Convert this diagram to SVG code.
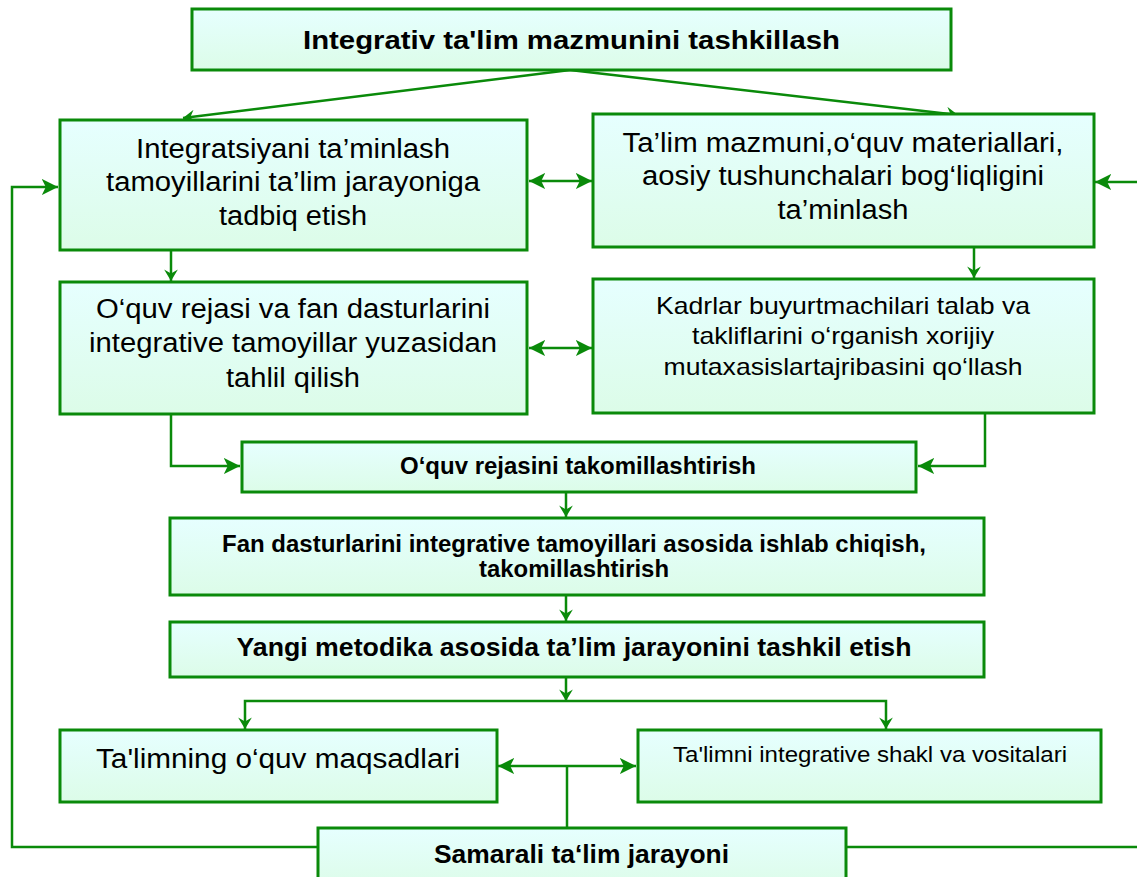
<svg xmlns="http://www.w3.org/2000/svg" width="1137" height="877" viewBox="0 0 1137 877">
<defs>
<linearGradient id="g" x1="0" y1="0" x2="0" y2="1">
<stop offset="0" stop-color="#e6ffff"/>
<stop offset="1" stop-color="#dcfce8"/>
</linearGradient>
<marker id="ah" viewBox="0 0 12 12" refX="12" refY="6" markerWidth="6.5" markerHeight="6.5" markerUnits="strokeWidth" orient="auto-start-reverse">
<path d="M0,0 L12,6 L0,12 L3,6 z" fill="#0a8a0a"/>
</marker>
<marker id="av" viewBox="0 0 10 12" refX="10" refY="6" markerWidth="6.5" markerHeight="5.5" markerUnits="strokeWidth" orient="auto-start-reverse">
<path d="M0,0 L10,6 L0,12 L3.5,6 z" fill="#0a8a0a"/>
</marker>
</defs>
<style>
.box{fill:url(#g);stroke:#0a8a0a;stroke-width:3}
.c{fill:none;stroke:#0a8a0a;stroke-width:2.5}
.t{font-family:"Liberation Sans",Arial,sans-serif;fill:#000;text-anchor:middle}
.b{font-weight:bold}
</style>
<rect width="1137" height="877" fill="#fff"/>
<g id="connectors">
<line class="c" x1="570" y1="70" x2="183" y2="118" marker-end="url(#av)"/>
<line class="c" x1="570" y1="70" x2="958" y2="115" marker-end="url(#av)"/>
<line class="c" x1="529" y1="181" x2="592" y2="181" marker-start="url(#ah)" marker-end="url(#ah)"/>
<line class="c" x1="1137" y1="182" x2="1095" y2="182" marker-end="url(#ah)"/>
<polyline class="c" points="318,847 12,847 12,187 58,187" marker-end="url(#ah)"/>
<line class="c" x1="171" y1="251" x2="171" y2="281" marker-end="url(#av)"/>
<line class="c" x1="974" y1="248" x2="974" y2="278" marker-end="url(#av)"/>
<line class="c" x1="529" y1="348" x2="592" y2="348" marker-start="url(#ah)" marker-end="url(#ah)"/>
<polyline class="c" points="171,415 171,466 240,466" marker-end="url(#ah)"/>
<polyline class="c" points="985,414 985,466 918,466" marker-end="url(#ah)"/>
<line class="c" x1="566" y1="493" x2="566" y2="517" marker-end="url(#av)"/>
<line class="c" x1="566" y1="596" x2="566" y2="621" marker-end="url(#av)"/>
<line class="c" x1="566" y1="678" x2="566" y2="701" marker-end="url(#av)"/>
<polyline class="c" points="245,729 245,701 886,701 886,729" marker-start="url(#av)" marker-end="url(#av)"/>
<line class="c" x1="498" y1="766" x2="636" y2="766" marker-start="url(#ah)" marker-end="url(#ah)"/>
<line class="c" x1="567" y1="766" x2="567" y2="828"/>
<line class="c" x1="846" y1="847" x2="1137" y2="847"/>
</g>
<g id="n1">
<rect class="box" x="192" y="9" width="759" height="61"/>
<text class="t b" x="571.5" y="49" font-size="26" textLength="537" lengthAdjust="spacingAndGlyphs">Integrativ ta'lim mazmunini tashkillash</text>
</g>
<g id="n2">
<rect class="box" x="60" y="120" width="467" height="130"/>
<text class="t" x="293" y="158" font-size="27" textLength="314" lengthAdjust="spacingAndGlyphs">Integratsiyani ta’minlash</text>
<text class="t" x="293" y="191" font-size="27" textLength="374" lengthAdjust="spacingAndGlyphs">tamoyillarini ta’lim jarayoniga</text>
<text class="t" x="293" y="225" font-size="27" textLength="148" lengthAdjust="spacingAndGlyphs">tadbiq etish</text>
</g>
<g id="n3">
<rect class="box" x="593" y="114" width="501" height="133"/>
<text class="t" x="843" y="152" font-size="27" textLength="441" lengthAdjust="spacingAndGlyphs">Ta’lim mazmuni,o‘quv materiallari,</text>
<text class="t" x="843" y="185" font-size="27" textLength="402" lengthAdjust="spacingAndGlyphs">aosiy tushunchalari bog‘liqligini</text>
<text class="t" x="843" y="219" font-size="27" textLength="131" lengthAdjust="spacingAndGlyphs">ta’minlash</text>
</g>
<g id="n4">
<rect class="box" x="60" y="282" width="467" height="132"/>
<text class="t" x="293" y="318" font-size="27" textLength="394" lengthAdjust="spacingAndGlyphs">O‘quv rejasi va fan dasturlarini</text>
<text class="t" x="293" y="352" font-size="27" textLength="408" lengthAdjust="spacingAndGlyphs">integrative tamoyillar yuzasidan</text>
<text class="t" x="293" y="387" font-size="27" textLength="134" lengthAdjust="spacingAndGlyphs">tahlil qilish</text>
</g>
<g id="n5">
<rect class="box" x="593" y="279" width="501" height="134"/>
<text class="t" x="843" y="314" font-size="24" textLength="374" lengthAdjust="spacingAndGlyphs">Kadrlar buyurtmachilari talab va</text>
<text class="t" x="843" y="344" font-size="24" textLength="302" lengthAdjust="spacingAndGlyphs">takliflarini o‘rganish xorijiy</text>
<text class="t" x="843" y="375" font-size="24" textLength="359" lengthAdjust="spacingAndGlyphs">mutaxasislartajribasini qo‘llash</text>
</g>
<g id="n6">
<rect class="box" x="242" y="442" width="674" height="50"/>
<text class="t b" x="578" y="474" font-size="23" textLength="356" lengthAdjust="spacingAndGlyphs">O‘quv rejasini takomillashtirish</text>
</g>
<g id="n7">
<rect class="box" x="170" y="518" width="814" height="77"/>
<text class="t b" x="574" y="552" font-size="23" textLength="704" lengthAdjust="spacingAndGlyphs">Fan dasturlarini integrative tamoyillari asosida ishlab chiqish,</text>
<text class="t b" x="574" y="577" font-size="23" textLength="190" lengthAdjust="spacingAndGlyphs">takomillashtirish</text>
</g>
<g id="n8">
<rect class="box" x="170" y="622" width="814" height="55"/>
<text class="t b" x="574" y="656" font-size="25" textLength="675" lengthAdjust="spacingAndGlyphs">Yangi metodika asosida ta’lim jarayonini tashkil etish</text>
</g>
<g id="n9">
<rect class="box" x="60" y="730" width="437" height="72"/>
<text class="t" x="278" y="768" font-size="27" textLength="364" lengthAdjust="spacingAndGlyphs">Ta'limning o‘quv maqsadlari</text>
</g>
<g id="n10">
<rect class="box" x="638" y="730" width="463" height="72"/>
<text class="t" x="870" y="762" font-size="22" textLength="394" lengthAdjust="spacingAndGlyphs">Ta'limni integrative shakl va vositalari</text>
</g>
<g id="n11">
<rect class="box" x="318" y="828" width="528" height="60"/>
<text class="t b" x="581.5" y="863" font-size="25" textLength="295" lengthAdjust="spacingAndGlyphs">Samarali ta‘lim jarayoni</text>
</g>
</svg>
